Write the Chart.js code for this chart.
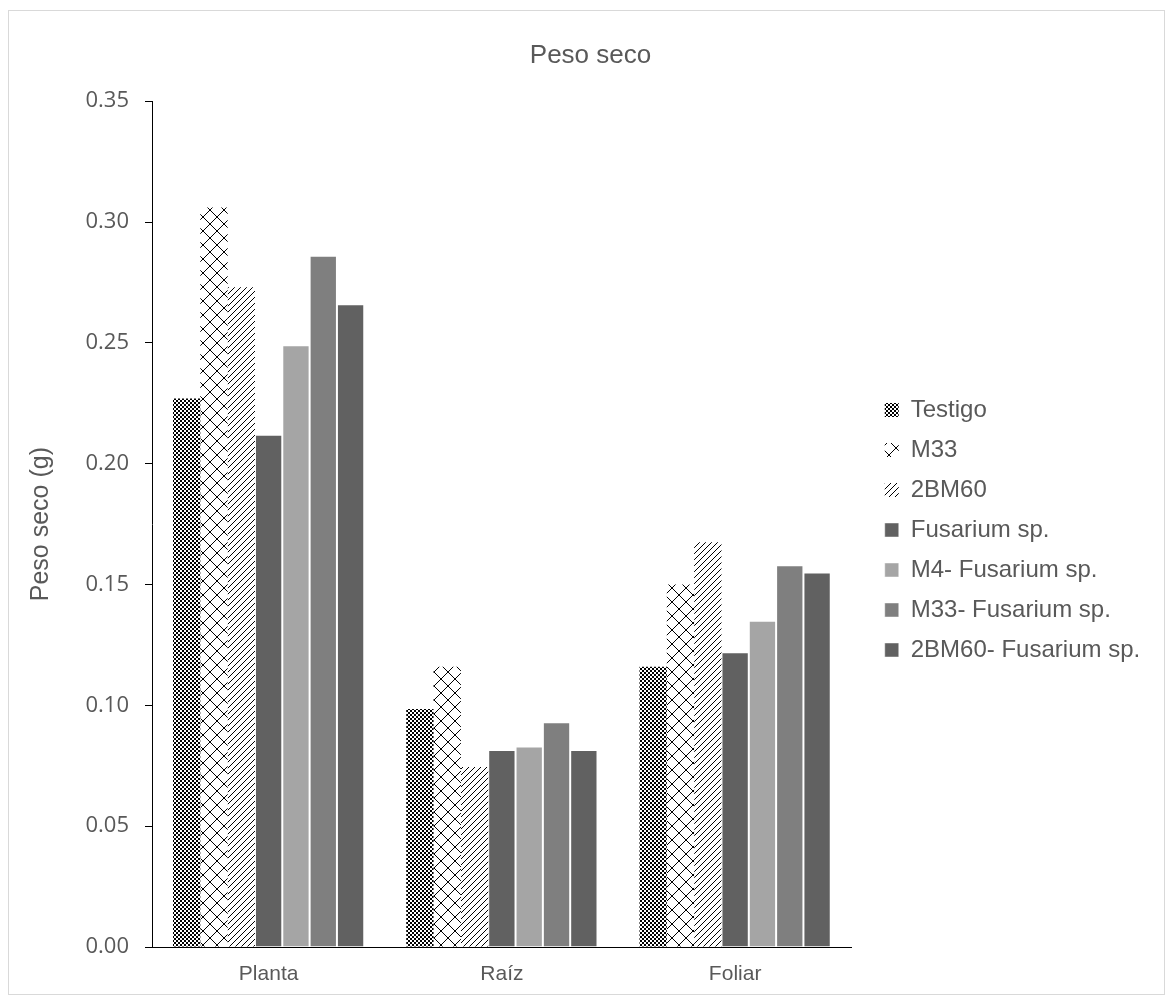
<!DOCTYPE html>
<html>
<head>
<meta charset="utf-8">
<script src="https://cdn.jsdelivr.net/npm/chart.js@4.4.1/dist/chart.umd.min.js"></script>
<style>
  html, body { margin: 0; padding: 0; background: #fff; }
  #wrap { width: 1173px; height: 1002px; position: relative; }
</style>
</head>
<body>
<div id="wrap"><canvas id="mycanvas" width="1173" height="1002"></canvas></div>
<script>
var categories = ['Planta', 'Raíz', 'Foliar'];
var seriesNames = ['Testigo', 'M33', '2BM60', 'Fusarium sp.', 'M4- Fusarium sp.', 'M33- Fusarium sp.', '2BM60- Fusarium sp.'];

var testigo   = [0.227, 0.0985, 0.116];
var m33       = [0.306, 0.116, 0.150];
var bm60      = [0.273, 0.0745, 0.1675];
var fusarium  = [0.212, 0.0815, 0.122];
var m4Fus     = [0.249, 0.083, 0.135];
var m33Fus    = [0.286, 0.093, 0.158];
var bm60Fus   = [0.266, 0.0815, 0.155];

var yTicks = [0, 0.05, 0.10, 0.15, 0.20, 0.25, 0.30, 0.35];

// little pixel patterns, like the Excel fills
function makePattern(size, drawFn) {
  var c = document.createElement('canvas');
  c.width = size; c.height = size;
  var g = c.getContext('2d');
  g.fillStyle = '#fff';
  g.fillRect(0, 0, size, size);
  g.fillStyle = '#000';
  drawFn(g, size);
  return document.getElementById('mycanvas').getContext('2d').createPattern(c, 'repeat');
}

var checker = makePattern(4, function(g) {
  g.fillRect(0, 0, 2, 2);
  g.fillRect(2, 2, 2, 2);
});

var cross = makePattern(14, function(g, s) {
  for (var i = 0; i < s; i++) {
    g.fillRect(i, i, 1, 1);
    g.fillRect(s - 1 - i, i, 1, 1);
  }
});

var diag = makePattern(6, function(g, s) {
  for (var i = 0; i < s; i++) {
    g.fillRect(i, s - 1 - i, 1, 1);
  }
});

var values = [testigo, m33, bm60, fusarium, m4Fus, m33Fus, bm60Fus];
var fills = [checker, cross, diag, '#616161', '#a5a5a5', '#7f7f7f', '#616161'];

var datasets = [];
for (var i = 0; i < values.length; i++) {
  datasets.push({
    label: seriesNames[i],
    data: values[i],
    backgroundColor: fills[i],
    borderColor: i < 3 ? 'rgba(0,0,0,0)' : 'rgba(255,255,255,0.45)',
    borderWidth: i < 3 ? 0 : 1,
    categoryPercentage: 0.82,
    barPercentage: 1.0
  });
}

var frame = {
  id: 'frame',
  afterLayout: function(chart) {
    // nudge the legend and title to where Excel puts them
    var lg = chart.legend;
    lg.left += 17; lg.right += 17;
    lg.top += 34; lg.bottom += 34;
    var t = chart.titleBlock;
    if (t) { t.left += 14; t.right += 14; }
  },
  beforeDraw: function(chart) {
    var c = chart.ctx;
    c.save();
    c.fillStyle = '#fff';
    c.fillRect(0, 0, chart.width, chart.height);
    c.strokeStyle = '#d9d9d9';
    c.lineWidth = 1;
    c.strokeRect(8.5, 10.5, 1156, 984);
    c.restore();
  }
};

var ctx = document.getElementById('mycanvas');

var barGraph = new Chart(ctx, {
  type: 'bar',
  data: { labels: categories, datasets: datasets },
  plugins: [frame],
  options: {
    responsive: false,
    animation: false,
    layout: { padding: { left: 26, right: 46, top: 0, bottom: 10 } },
    plugins: {
      title: {
        display: true,
        text: 'Peso seco',
        color: '#595959',
        font: { family: 'Liberation Sans, Arial', size: 26, weight: 'normal' },
        padding: { top: 40, bottom: 30 }
      },
      legend: {
        position: 'right',
        labels: {
          color: '#595959',
          font: { family: 'Liberation Sans, Arial', size: 24 },
          boxWidth: 14,
          boxHeight: 14,
          padding: 16
        }
      },
      tooltip: { enabled: false }
    },
    scales: {
      x: {
        grid: { display: false, drawTicks: false },
        border: { color: '#000', width: 1 },
        ticks: {
          color: '#595959',
          font: { family: 'Liberation Sans, Arial', size: 21 },
          padding: 15
        },
        afterFit: function(scale) { scale.height = 45; }
      },
      y: {
        min: 0,
        max: 0.35,
        afterBuildTicks: function(scale) {
          scale.ticks = yTicks.map(function(v) { return { value: v }; });
        },
        grid: { display: true, drawOnChartArea: false, drawTicks: true, tickLength: 7, color: '#000' },
        border: { color: '#000', width: 1 },
        ticks: {
          color: '#595959',
          font: { family: 'Open Sans', size: 22 },
          padding: 16,
          callback: function(v) { return v.toFixed(2); }
        },
        title: {
          display: true,
          text: 'Peso seco (g)',
          color: '#595959',
          font: { family: 'Liberation Sans, Arial', size: 25 },
          padding: { top: 0, bottom: 12 }
        },
        afterFit: function(scale) { scale.width = 126; }
      }
    }
  }
});
</script>
</body>
</html>
